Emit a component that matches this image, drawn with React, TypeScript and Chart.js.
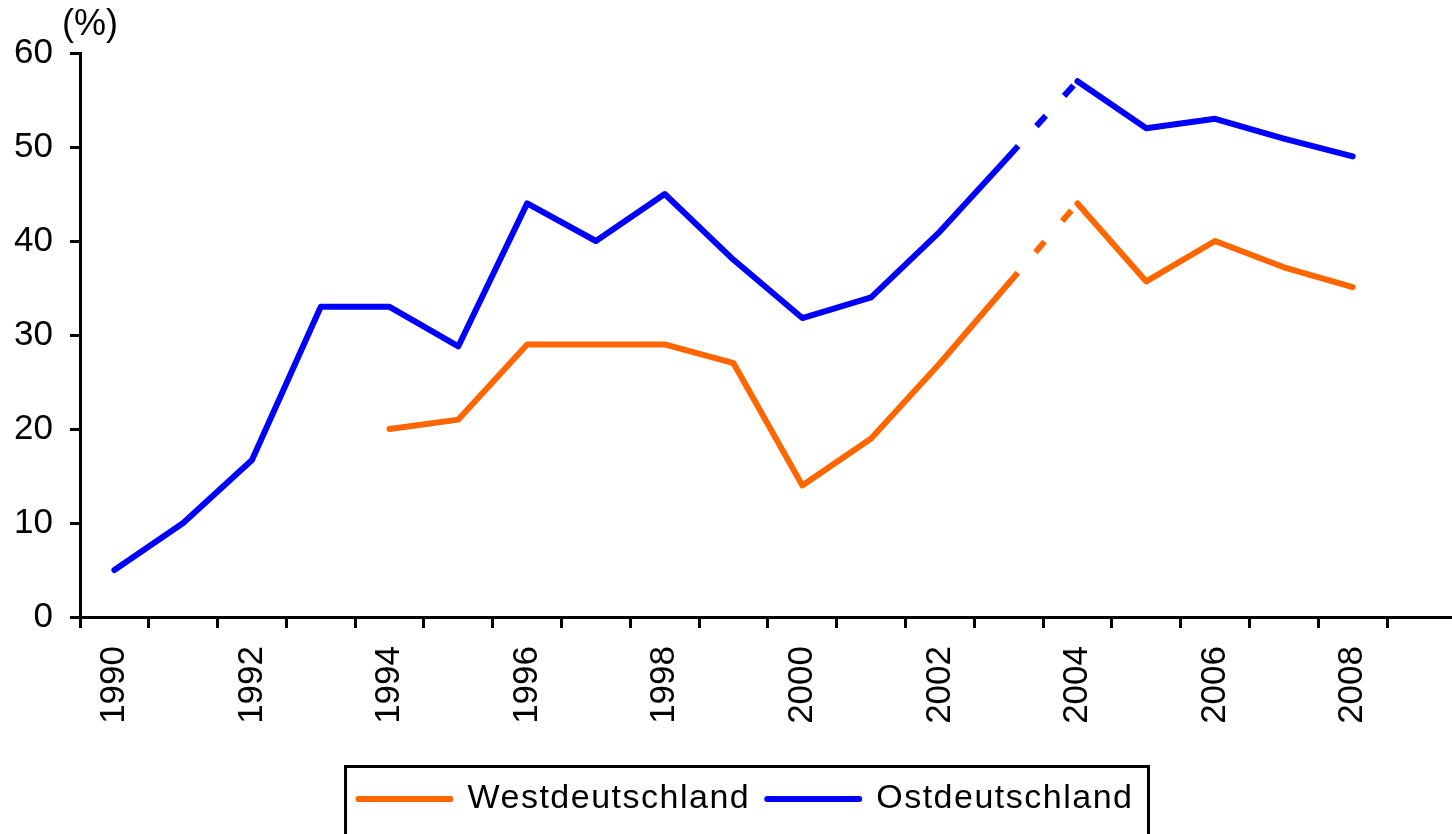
import React, { useEffect, useRef } from 'react';
import { Chart, registerables } from 'chart.js';

Chart.register(...registerables);

const years = [
  '1990', '1991', '1992', '1993', '1994', '1995', '1996', '1997', '1998', '1999',
  '2000', '2001', '2002', '2003', '2004', '2005', '2006', '2007', '2008', '2009',
];
const westValues: (number | null)[] = [
  null, null, null, null, 20, 21, 29, 29, 29, 27,
  14, 19, 27, 35.5, 44, 35.7, 40, 37.2, 35.1, null,
];
const ostValues: (number | null)[] = [
  5, 10, 16.7, 33, 33, 28.8, 44, 40, 45, 38,
  31.8, 34, 41, 49, 57, 52, 53, 50.9, 49, null,
];
const seriesNames = ['Westdeutschland', 'Ostdeutschland'];
const seriesColors = ['#FF6600', '#0000FF'];
const dashedFromIndex = 13; // segment 2003 -> 2004 is dashed
const yMin = 0;
const yMax = 60;
const yStep = 10;
const unitLabel = '(%)';

const FONT = "'Liberation Sans', Arial, sans-serif";

const extrasPlugin = {
  id: 'extras',
  afterInit(chart: any) {
    const lg = chart.legend;
    if (!lg) return;
    const wrap = (name: string) => {
      const orig = lg[name].bind(lg);
      lg[name] = (...args: any[]) => {
        const c: any = chart.ctx;
        const prev = c.letterSpacing;
        c.letterSpacing = '1.5px';
        const r = orig(...args);
        c.letterSpacing = prev || '0px';
        return r;
      };
    };
    wrap('fit');
    wrap('draw');
  },
  afterDraw(chart: any) {
    const ctx = chart.ctx;
    const area = chart.chartArea;
    ctx.save();
    ctx.fillStyle = '#000';
    ctx.font = `36px ${FONT}`;
    ctx.textAlign = 'left';
    ctx.textBaseline = 'middle';
    ctx.fillText(unitLabel, area.left - 18, area.top - 28);
    const lg = chart.legend;
    if (lg && lg.legendHitBoxes && lg.legendHitBoxes.length) {
      const hb = lg.legendHitBoxes;
      const first = hb[0];
      const last = hb[hb.length - 1];
      const left = first.left - 13;
      const right = last.left + last.width + 15;
      ctx.lineWidth = 3;
      ctx.strokeStyle = '#000';
      ctx.strokeRect(left, lg.top + 1.5, right - left, 200);
    }
    ctx.restore();
  },
};

export default function App() {
  const ref = useRef<HTMLCanvasElement | null>(null);

  useEffect(() => {
    if (!ref.current) return;
    const dashed = (c: any) => (c.p0DataIndex === dashedFromIndex ? [14, 27] : undefined);
    const cap = (c: any) => (c.p0DataIndex === dashedFromIndex ? 'butt' : undefined);
    const makeDataset = (i: number, values: (number | null)[]) =>
      ({
        label: seriesNames[i],
        data: values,
        borderColor: seriesColors[i],
        backgroundColor: seriesColors[i],
        borderWidth: 6,
        borderCapStyle: 'round',
        borderJoinStyle: 'round',
        pointRadius: 0,
        pointHoverRadius: 0,
        tension: 0,
        spanGaps: false,
        segment: { borderDash: dashed, borderCapStyle: cap },
      } as any);
    const chart = new Chart(ref.current, {
      type: 'line',
      data: {
        labels: years,
        datasets: [makeDataset(0, westValues), makeDataset(1, ostValues)],
      },
      options: {
        responsive: false,
        animation: false,
        devicePixelRatio: 1,
        layout: { padding: { left: 10, right: 0, top: 53, bottom: 8 } },
        plugins: {
          tooltip: { enabled: false },
          title: { display: false },
          legend: {
            display: true,
            position: 'bottom',
            labels: {
              usePointStyle: true,
              pointStyle: 'line',
              pointStyleWidth: 92,
              padding: 17,
              color: '#000',
              font: { family: FONT, size: 34 },
              generateLabels: (ch: any) =>
                ch.data.datasets.map((ds: any, i: number) => ({
                  text: ds.label,
                  fillStyle: ds.borderColor,
                  strokeStyle: ds.borderColor,
                  lineWidth: 6,
                  lineCap: 'round',
                  pointStyle: 'line',
                  hidden: false,
                  datasetIndex: i,
                  fontColor: '#000',
                })),
            },
          },
        },
        scales: {
          x: {
            type: 'category',
            offset: true,
            grid: {
              display: true,
              drawOnChartArea: false,
              drawTicks: true,
              tickLength: 11,
              color: '#000',
              lineWidth: 3,
              offset: true,
            },
            border: { display: true, color: '#000', width: 3 },
            ticks: {
              autoSkip: false,
              minRotation: 90,
              maxRotation: 90,
              padding: 18,
              color: '#000',
              font: { family: FONT, size: 35 },
              callback: (_v: any, i: number) => (i % 2 === 0 ? years[i] : ''),
            },
            afterFit: (s: any) => {
              s.height = 148;
            },
          },
          y: {
            position: 'left',
            min: yMin,
            max: yMax,
            grid: {
              display: true,
              drawOnChartArea: false,
              drawTicks: true,
              tickLength: 10,
              color: '#000',
              lineWidth: 3,
            },
            border: { display: true, color: '#000', width: 3 },
            ticks: {
              stepSize: yStep,
              padding: 17,
              color: '#000',
              font: { family: FONT, size: 35 },
            },
            afterFit: (s: any) => {
              s.width = 70;
            },
          },
          yRight: {
            position: 'right',
            min: yMin,
            max: yMax,
            display: true,
            grid: { display: false, drawTicks: false },
            border: { display: false },
            ticks: { display: false },
            afterFit: (s: any) => {
              s.width = 22;
            },
          },
        },
      } as any,
      plugins: [extrasPlugin],
    });
    return () => chart.destroy();
  }, []);

  return (
    <div
      style={{
        position: 'fixed',
        left: 0,
        top: 0,
        width: 1452,
        height: 834,
        overflow: 'hidden',
        background: '#fff',
      }}
    >
      <canvas ref={ref} width={1482} height={834} style={{ display: 'block', width: 1482, height: 834 }} />
    </div>
  );
}
